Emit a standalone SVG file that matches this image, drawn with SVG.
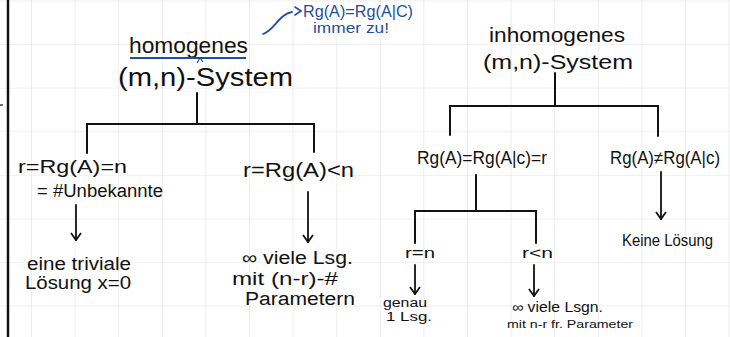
<svg xmlns="http://www.w3.org/2000/svg" width="730" height="337" viewBox="0 0 730 337">
<defs>
<pattern id="grid" x="31" y="0.4" width="43.6" height="43.6" patternUnits="userSpaceOnUse">
<path d="M0,0 H43.6 M0,0 V43.6" fill="none" stroke="#e2e2e2" stroke-width="1.2"/>
</pattern>
<marker id="arrv" viewBox="0 0 12 12" refX="6" refY="11" markerWidth="12" markerHeight="12" markerUnits="userSpaceOnUse" orient="0">
<path d="M1,4 L6,11 L11,4" fill="none" stroke="#111" stroke-width="1.8"/>
</marker>
<style>
.t{font-family:"Liberation Sans","DejaVu Sans",sans-serif;fill:#111;}
.b{font-family:"Liberation Sans","DejaVu Sans",sans-serif;fill:#1f4e9c;}
.ln{fill:none;stroke:#111;stroke-width:2;stroke-linecap:round;}
.ar{fill:none;stroke:#111;stroke-width:1.8;stroke-linecap:round;marker-end:url(#arrv);}
</style>
</defs>
<rect width="730" height="337" fill="#fff"/>
<rect width="730" height="337" fill="url(#grid)"/>
<line x1="8" y1="0" x2="8" y2="337" stroke="#111" stroke-width="2.5"/>
<line x1="0" y1="105" x2="3" y2="105" stroke="#111" stroke-width="1.2"/>

<g id="connectors">
<path class="ln" d="M197,93 V124"/>
<path class="ln" d="M87,153 V124 H314 V152"/>
<path class="ln" d="M555,73 V106"/>
<path class="ln" d="M450,135 V106 H658 V136"/>
<path class="ln" d="M476,175 V211"/>
<path class="ln" d="M415,243 V211 H536 V243"/>
<path class="ar" d="M76,205 V240"/>
<path class="ar" d="M308,192 V242"/>
<path class="ar" d="M415,265 V294"/>
<path class="ar" d="M534,265 V296"/>
<path class="ar" d="M661,172 V219"/>
<path d="M263,34 C274,31 279,14 292,12" fill="none" stroke="#1f4e9c" stroke-width="1.8" stroke-linecap="round"/>
<path d="M295,7 L301,11 L295,15" fill="none" stroke="#1f4e9c" stroke-width="1.6" stroke-linecap="round"/>
</g>

<g id="note">
<text class="b" x="303" y="17" font-size="16" textLength="110" lengthAdjust="spacingAndGlyphs">Rg(A)=Rg(A|C)</text>
<text class="b" x="313" y="33" font-size="14" textLength="76" lengthAdjust="spacingAndGlyphs">immer zu!</text>
</g>

<g id="homogen">
<text class="t" x="129" y="53" font-size="22" textLength="119" lengthAdjust="spacingAndGlyphs">homogenes</text>
<line x1="130" y1="58" x2="246" y2="58" stroke="#1f4e9c" stroke-width="1.8"/>
<path d="M197,63 L200,58 L203,62" fill="none" stroke="#1f4e9c" stroke-width="1.2"/>
<text class="t" x="118" y="86" font-size="25" textLength="175" lengthAdjust="spacingAndGlyphs">(m,n)-System</text>
</g>

<g id="inhomogen">
<text class="t" x="489" y="42" font-size="21" textLength="136" lengthAdjust="spacingAndGlyphs">inhomogenes</text>
<text class="t" x="483" y="69" font-size="21" textLength="150" lengthAdjust="spacingAndGlyphs">(m,n)-System</text>
</g>

<g id="rank-eq-n">
<text class="t" x="18" y="173" font-size="19" textLength="109" lengthAdjust="spacingAndGlyphs">r=Rg(A)=n</text>
<text class="t" x="37" y="197" font-size="18" textLength="126" lengthAdjust="spacingAndGlyphs">= #Unbekannte</text>
</g>

<g id="rank-lt-n">
<text class="t" x="243" y="177" font-size="20" textLength="111" lengthAdjust="spacingAndGlyphs">r=Rg(A)&lt;n</text>
</g>

<g id="trivial">
<text class="t" x="27" y="270" font-size="18" textLength="104" lengthAdjust="spacingAndGlyphs">eine triviale</text>
<text class="t" x="25" y="289" font-size="18" textLength="106" lengthAdjust="spacingAndGlyphs">Lösung x=0</text>
</g>

<g id="infinite-hom">
<text class="t" x="242" y="264" font-size="18" textLength="111" lengthAdjust="spacingAndGlyphs">∞ viele Lsg.</text>
<text class="t" x="232" y="285" font-size="18" textLength="106" lengthAdjust="spacingAndGlyphs">mit (n-r)-#</text>
<text class="t" x="245" y="305" font-size="18" textLength="110" lengthAdjust="spacingAndGlyphs">Parametern</text>
</g>

<g id="rank-equal">
<text class="t" x="417" y="164" font-size="19" textLength="130" lengthAdjust="spacingAndGlyphs">Rg(A)=Rg(A|c)=r</text>
</g>

<g id="rank-unequal">
<text class="t" x="610" y="164" font-size="18" textLength="110" lengthAdjust="spacingAndGlyphs">Rg(A)≠Rg(A|c)</text>
</g>

<g id="keine">
<text class="t" x="622" y="246" font-size="17" textLength="91" lengthAdjust="spacingAndGlyphs">Keine Lösung</text>
</g>

<g id="r-eq-n">
<text class="t" x="405" y="258" font-size="15" textLength="30" lengthAdjust="spacingAndGlyphs">r=n</text>
</g>

<g id="r-lt-n">
<text class="t" x="522" y="258" font-size="15" textLength="31" lengthAdjust="spacingAndGlyphs">r&lt;n</text>
</g>

<g id="genau">
<text class="t" x="383" y="307" font-size="12" textLength="44" lengthAdjust="spacingAndGlyphs">genau</text>
<text class="t" x="386" y="321" font-size="13" textLength="46" lengthAdjust="spacingAndGlyphs">1 Lsg.</text>
</g>

<g id="infinite-inhom">
<text class="t" x="512" y="312" font-size="14" textLength="91" lengthAdjust="spacingAndGlyphs">∞ viele Lsgn.</text>
<text class="t" x="507" y="328" font-size="11" textLength="126" lengthAdjust="spacingAndGlyphs">mit n-r fr. Parameter</text>
</g>
</svg>
